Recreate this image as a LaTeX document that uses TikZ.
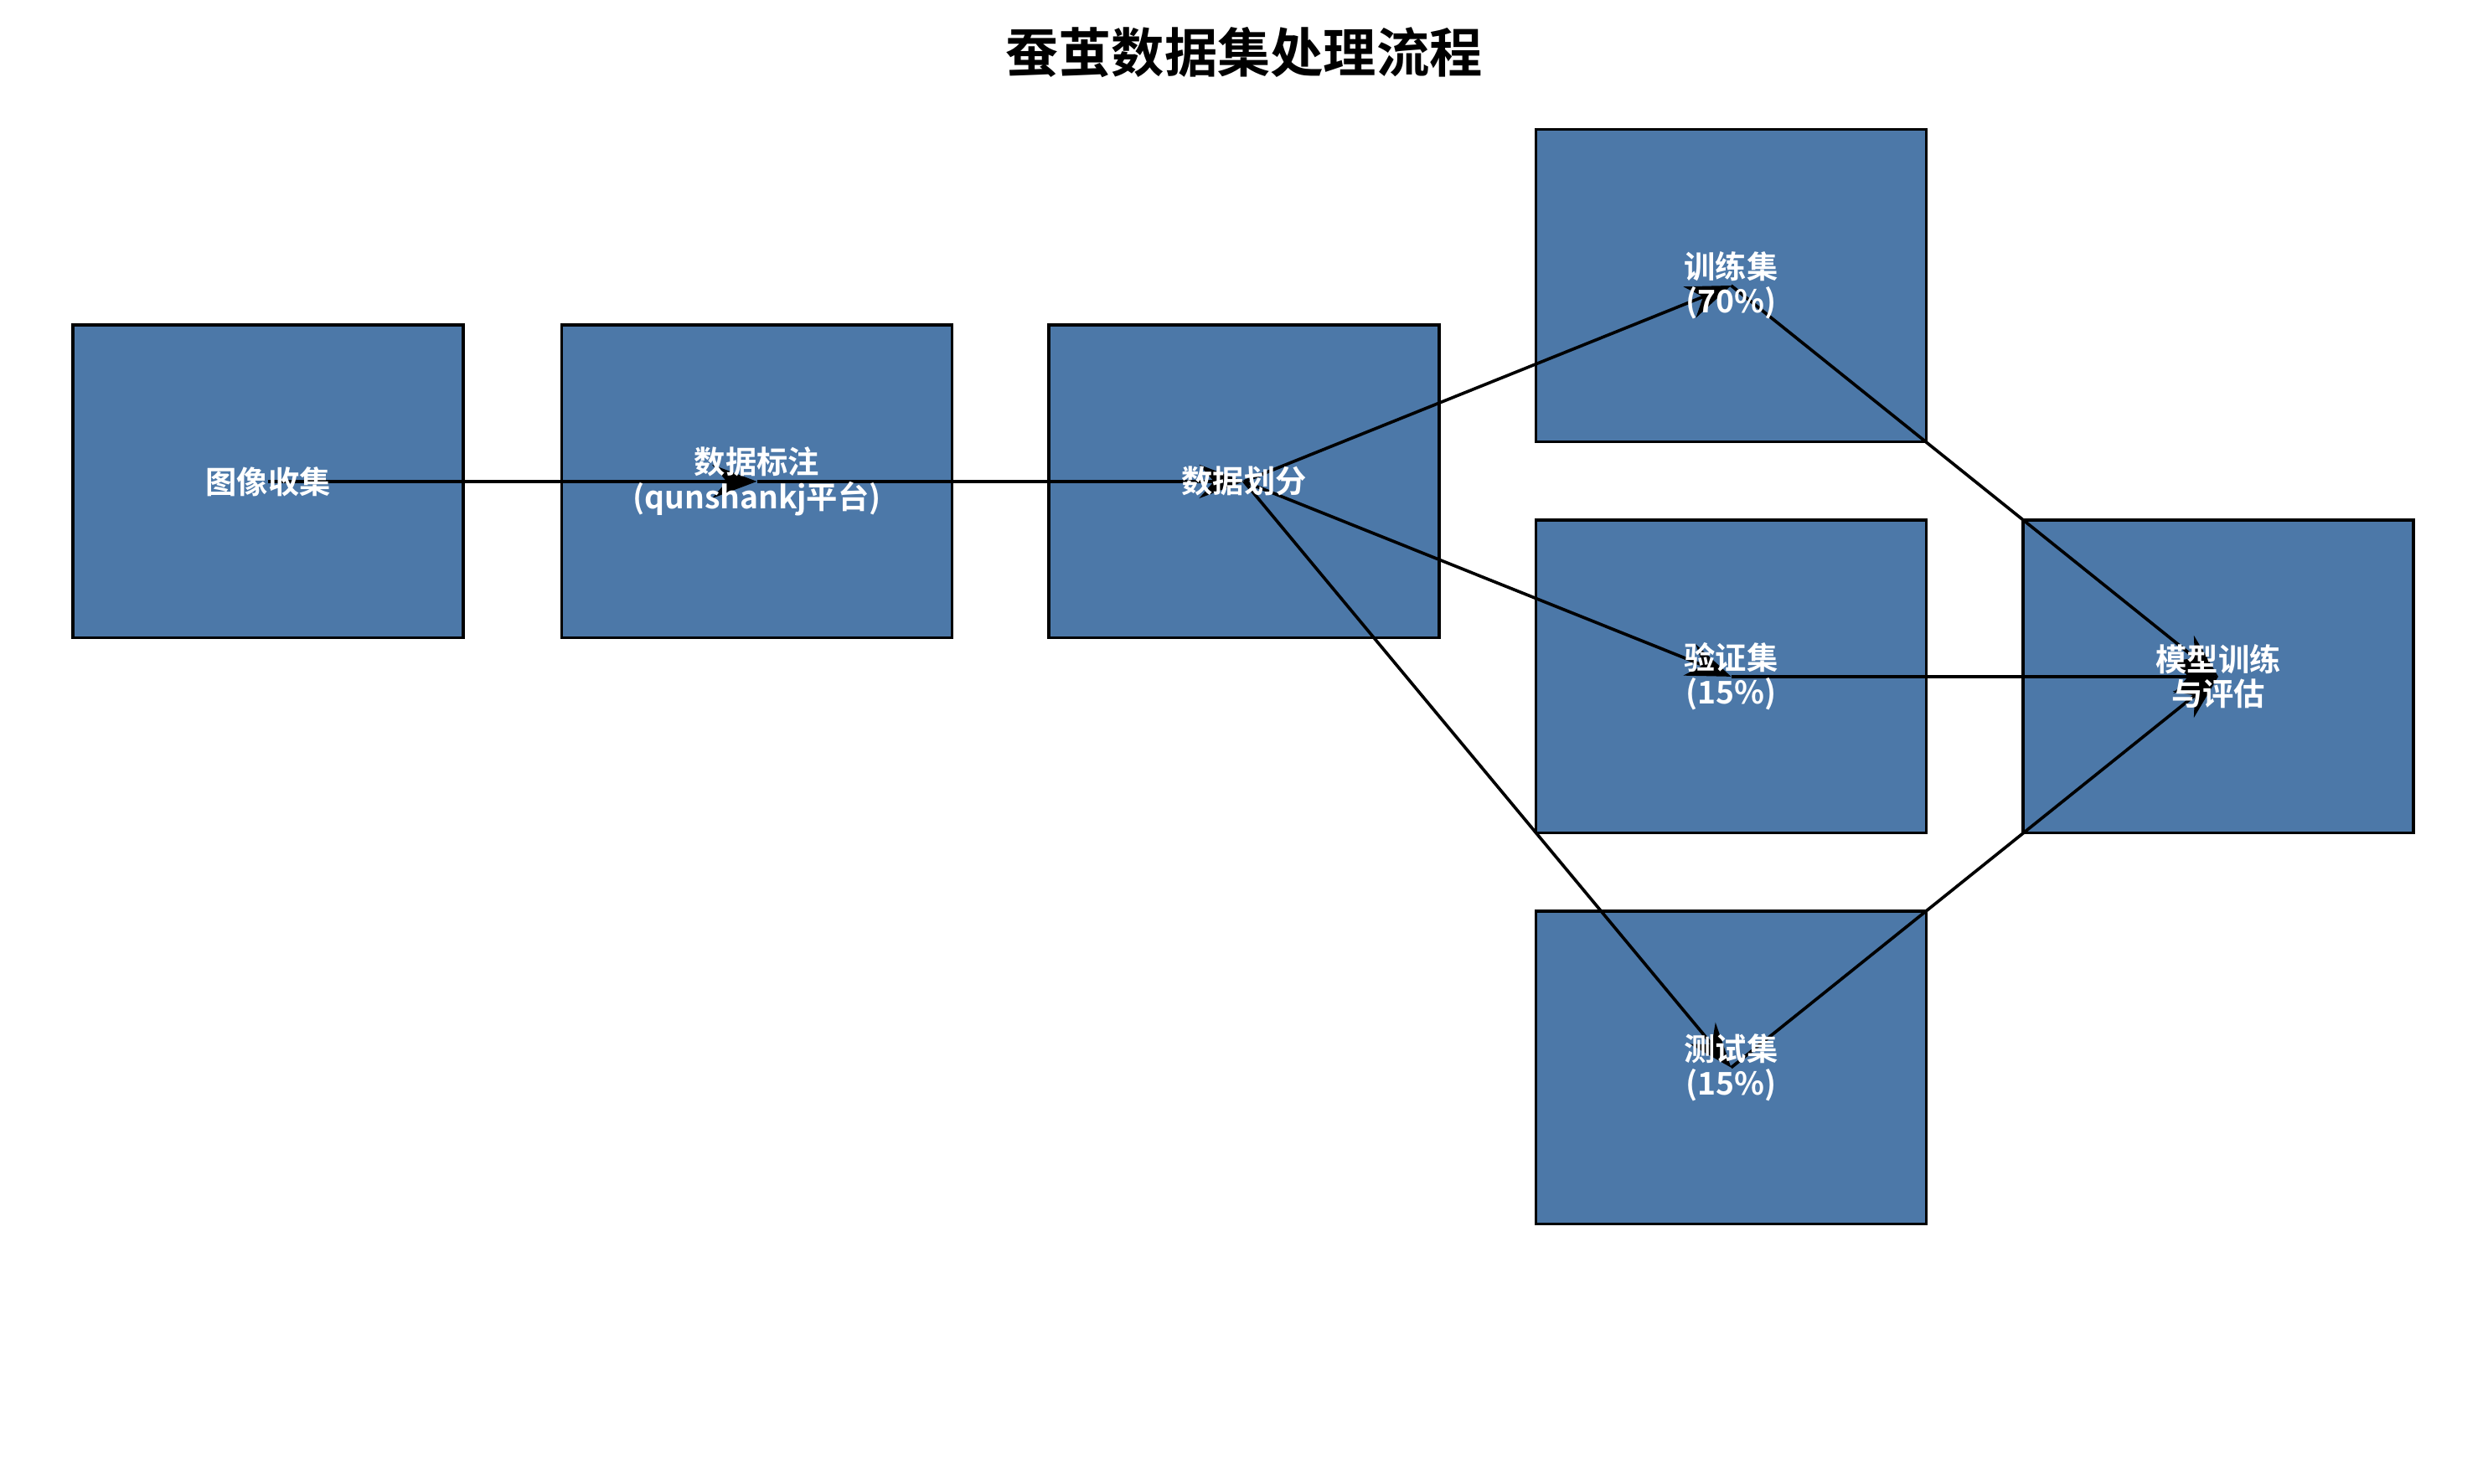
\documentclass[tikz,border=0pt]{standalone}
\usepackage{fontspec}
\setmainfont{Noto Sans CJK SC}[BoldFont={* Bold}]
\usetikzlibrary{arrows.meta}
\definecolor{boxblue}{HTML}{4C78A8}
\begin{document}
\begin{tikzpicture}[x=0.01cm,y=-0.01cm,
  stagebox/.style={draw=black,line width=0.55pt,fill=boxblue,minimum width=246*0.01cm,minimum height=197*0.01cm,inner sep=0pt},
  lbl/.style={text=white,font=\bfseries\fontsize{5.6}{6.2}\selectfont,align=center,inner sep=0pt},
  flow/.style={line width=0.55pt,-{Stealth[length=8pt,width=6pt]}}]
\useasboundingbox (0,0) rectangle (1568,935);
\node[font=\bfseries\fontsize{9.5}{11}\selectfont] (title) at (784,33) {蚕茧数据集处理流程};
\node[stagebox] (a) at (169,303.5) {};
\node[stagebox] (b) at (477,303.5) {};
\node[stagebox] (c) at (784,303.5) {};
\node[stagebox] (t) at (1091,180) {};
\node[stagebox] (v) at (1091,426.5) {};
\node[stagebox] (s) at (1091,673) {};
\node[stagebox] (m) at (1398,426.5) {};
\draw[flow] (a.center) -- (b.center);
\draw[flow] (b.center) -- (c.center);
\draw[flow] (c.center) -- (t.center);
\draw[flow] (c.center) -- (v.center);
\draw[flow] (c.center) -- (s.center);
\draw[flow] (t.center) -- (m.center);
\draw[flow] (v.center) -- (m.center);
\draw[flow] (s.center) -- (m.center);
\node[lbl] at (a.center) {图像收集};
\node[lbl] at (b.center) {数据标注\\(qunshankj平台)};
\node[lbl] at (c.center) {数据划分};
\node[lbl] at (t.center) {训练集\\(70\%)};
\node[lbl] at (v.center) {验证集\\(15\%)};
\node[lbl] at (s.center) {测试集\\(15\%)};
\node[lbl] at (m.center) {模型训练\\与评估};
\end{tikzpicture}
\end{document}
